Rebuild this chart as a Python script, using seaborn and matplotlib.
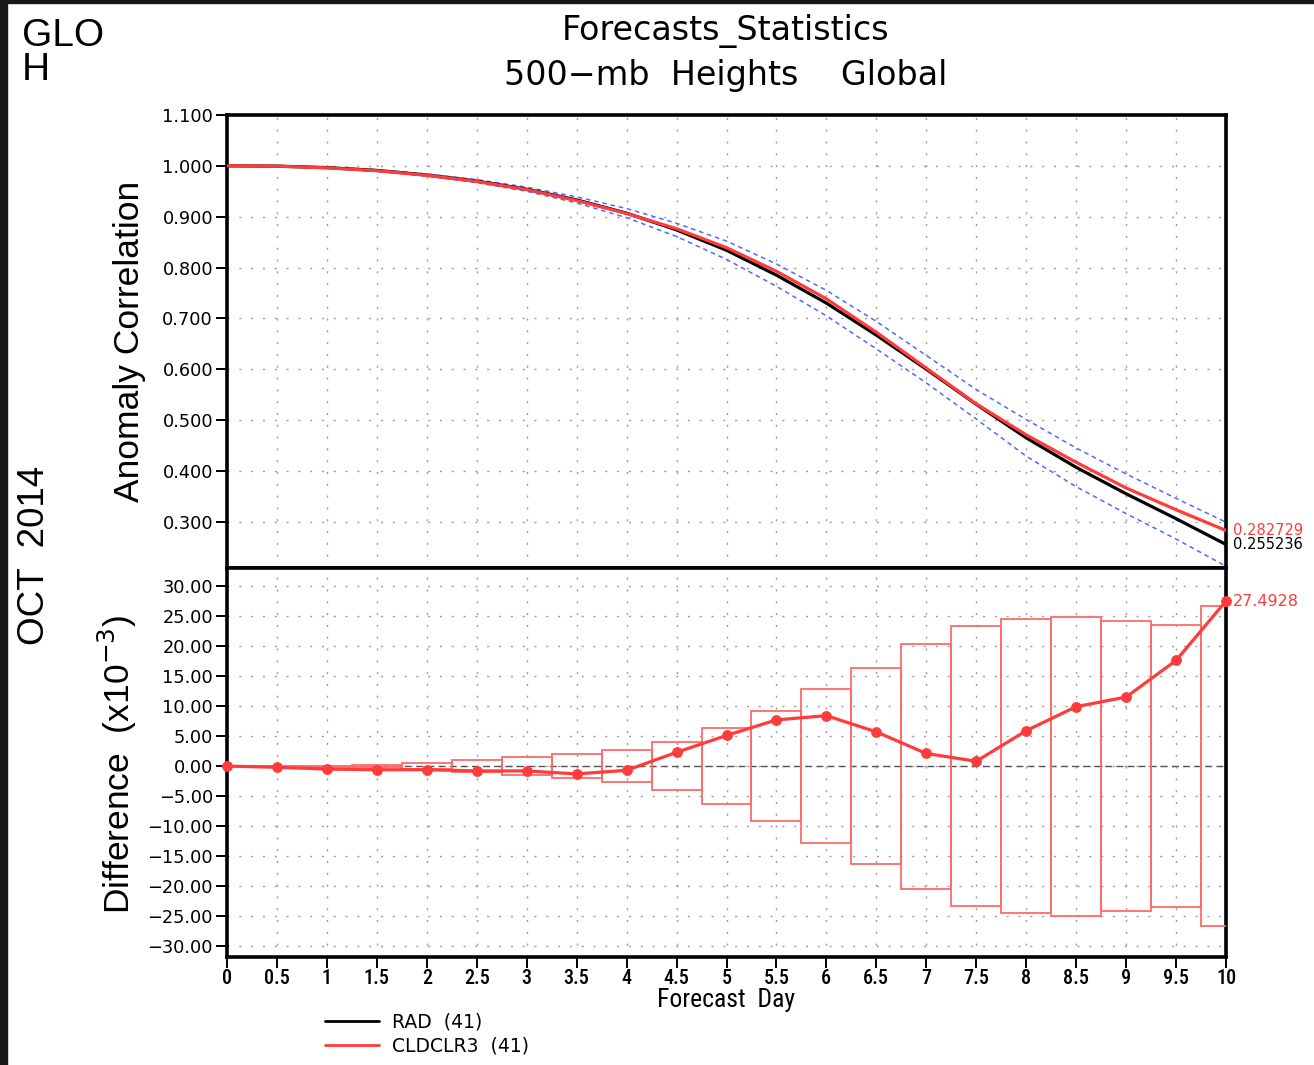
import numpy as np
import pandas as pd
import matplotlib
matplotlib.use("Agg")
import matplotlib.pyplot as plt
import seaborn as sns
from matplotlib.patches import Rectangle
from matplotlib.lines import Line2D
from matplotlib import font_manager

# ---------------- data ----------------
days = [0.0, 0.5, 1.0, 1.5, 2.0, 2.5, 3.0, 3.5, 4.0, 4.5, 5.0,
        5.5, 6.0, 6.5, 7.0, 7.5, 8.0, 8.5, 9.0, 9.5, 10.0]

rad_ac = [1.000, 0.9995, 0.9965, 0.991, 0.982, 0.970, 0.954, 0.933, 0.907, 0.874, 0.834,
          0.785, 0.730, 0.667, 0.600, 0.531, 0.465, 0.407, 0.355, 0.306, 0.255236]

cldclr3_ac = [1.000, 0.9993, 0.9960, 0.9904, 0.9814, 0.9692, 0.9532, 0.9317, 0.9063, 0.8763, 0.8391,
              0.7927, 0.7384, 0.6727, 0.6021, 0.5318, 0.4709, 0.4169, 0.3665, 0.3236, 0.282729]

ci_upper = [1.000, 1.000, 0.9975, 0.9925, 0.984, 0.973, 0.958, 0.939, 0.916, 0.887, 0.852,
            0.807, 0.755, 0.694, 0.627, 0.560, 0.501, 0.445, 0.394, 0.346, 0.299]

ci_lower = [1.000, 0.999, 0.9955, 0.9895, 0.980, 0.967, 0.950, 0.927, 0.898, 0.861, 0.816,
            0.763, 0.705, 0.640, 0.573, 0.502, 0.429, 0.369, 0.316, 0.266, 0.2125]

diff = [0.0, -0.2, -0.5, -0.6, -0.6, -0.8, -0.8, -1.3, -0.7, 2.3, 5.1,
        7.7, 8.4, 5.7, 2.1, 0.8, 5.9, 9.9, 11.5, 17.6, 27.4928]

diff_bound = [0.0, 0.03, 0.08, 0.17, 0.44, 0.94, 1.44, 2.0, 2.67, 4.0, 6.3,
              9.2, 12.8, 16.3, 20.4, 23.3, 24.5, 24.9, 24.1, 23.5, 26.7]

ac_ticks = [0.3, 0.4, 0.5, 0.6, 0.7, 0.8, 0.9, 1.0, 1.1]
diff_ticks = [-30, -25, -20, -15, -10, -5, 0, 5, 10, 15, 20, 25, 30]
day_ticks = days

series_labels = ["RAD  (41)", "CLDCLR3  (41)"]
end_labels = ["0.282729", "0.255236", "27.4928"]

# ---------------- style ----------------
sns.set_theme(style="white")
plt.rcParams["font.family"] = ["DejaVu Sans"]
for k in ("text.color", "axes.labelcolor", "xtick.color", "ytick.color", "axes.edgecolor"):
    plt.rcParams[k] = "black"

available = {f.name for f in font_manager.fontManager.ttflist}
def pick(cands):
    for c in cands:
        if c in available:
            return c
    return "DejaVu Sans"
narrow = pick(["Liberation Sans Narrow", "DejaVu Sans Condensed", "Roboto Condensed",
               "Open Sans Condensed", "Noto Sans Condensed"])
helv = pick(["Liberation Sans", "DejaVu Sans"])

RED = "#ff3b3b"
BOXRED = "#ff6a6a"
BLUE = "#4d6bff"
GRID = "#9c9c9c"

W, H = 1314, 1065
fig = plt.figure(figsize=(W / 100, H / 100), dpi=100)
fig.patch.set_facecolor("white")
# dark screenshot frame
fig.patches.append(Rectangle((0, 0), 7 / W, 1, transform=fig.transFigure, color="#181818", zorder=0))
fig.patches.append(Rectangle((0, 1 - 3 / H), 1, 3 / H, transform=fig.transFigure, color="#181818", zorder=0))

x0, x1 = 227, 1226
ax1 = fig.add_axes([x0 / W, 1 - 568 / H, (x1 - x0) / W, (568 - 115) / H])
ax2 = fig.add_axes([x0 / W, 1 - 957 / H, (x1 - x0) / W, (957 - 568) / H])

top = pd.DataFrame({"day": days, "rad": rad_ac, "cld": cldclr3_ac, "up": ci_upper, "lo": ci_lower})
bot = pd.DataFrame({"day": days, "diff": diff, "bound": diff_bound})

# ---------------- top panel ----------------
sns.lineplot(data=top, x="day", y="up", ax=ax1, color=BLUE, lw=1.1, ls=(0, (3, 2.5)), zorder=3)
sns.lineplot(data=top, x="day", y="lo", ax=ax1, color=BLUE, lw=1.1, ls=(0, (3, 2.5)), zorder=3)
sns.lineplot(data=top, x="day", y="rad", ax=ax1, color="black", lw=2.3, zorder=4)
sns.lineplot(data=top, x="day", y="cld", ax=ax1, color=RED, lw=2.3, zorder=5)

ax1.set_xlim(0, 10)
ax1.set_ylim(0.209, 1.1)
ax1.set_yticks(ac_ticks)
ax1.set_yticklabels([f"{v:.3f}" for v in ac_ticks])
ax1.set_xticks(day_ticks)
ax1.tick_params(axis="x", bottom=False, labelbottom=False, length=0)
ax1.tick_params(axis="y", left=True, direction="out", length=8, width=1.4, pad=2,
                labelsize=12.8, colors="black")
ax1.set_xlabel("")
ax1.set_ylabel("")

ax1.annotate(end_labels[0], xy=(10, cldclr3_ac[-1]), xytext=(5, 0), textcoords="offset points",
             va="center", ha="left", color=RED, fontsize=10.5, annotation_clip=False)
ax1.annotate(end_labels[1], xy=(10, rad_ac[-1]), xytext=(5, 0), textcoords="offset points",
             va="center", ha="left", color="black", fontsize=10.5, annotation_clip=False)

# ---------------- bottom panel ----------------
for d, b in zip(bot["day"], bot["bound"]):
    ax2.add_patch(Rectangle((d - 0.25, -b), 0.5, 2 * b, fill=False, edgecolor=BOXRED, lw=1.3, zorder=3))
ax2.axhline(0, color="#555555", lw=1.0, ls=(0, (5, 3)), zorder=2)
sns.lineplot(data=bot, x="day", y="diff", ax=ax2, color=RED, lw=2.3, marker="o", markersize=7,
             markeredgecolor=RED, zorder=5)
for ln in ax2.lines:
    ln.set_clip_on(False)

ax2.set_xlim(0, 10)
ax2.set_ylim(-31.8, 33)
ax2.set_yticks(diff_ticks)
ax2.set_yticklabels([f"{v:.2f}".replace("-", "\u2212") for v in diff_ticks])
ax2.set_xticks(day_ticks)
ax2.set_xticklabels([f"{v:g}" for v in day_ticks], fontfamily=narrow, fontweight="medium")
ax2.tick_params(axis="y", left=True, direction="out", length=8, width=1.4, pad=2,
                labelsize=12.8, colors="black")
ax2.tick_params(axis="x", bottom=True, direction="out", length=8, width=1.4, pad=0.5,
                labelsize=14.5, colors="black")
ax2.set_xlabel("")
ax2.set_ylabel("")
ax2.annotate(end_labels[2], xy=(10, diff[-1]), xytext=(5, 0), textcoords="offset points",
             va="center", ha="left", color=RED, fontsize=11.5, annotation_clip=False)

for ax in (ax1, ax2):
    ax.grid(True, color=GRID, linestyle=(0, (1.5, 7)), linewidth=1.0)
    ax.set_axisbelow(True)
    for s in ax.spines.values():
        s.set_visible(True)
        s.set_linewidth(2.6)
        s.set_color("black")
    ax.set_facecolor("white")

# ---------------- texts ----------------
def ftxt(x, y, s, **kw):
    fig.text(x / W, 1 - y / H, s, color=kw.pop("color", "black"), **kw)

ftxt(22, 46, "GLO", fontsize=28, family=helv, va="baseline", ha="left")
ftxt(22, 80, "H", fontsize=28, family=helv, va="baseline", ha="left")
ftxt(726, 31, "Forecasts_Statistics", fontsize=24, ha="center", va="center")
ftxt(726, 76, "500\u2212mb  Heights    Global", fontsize=24, ha="center", va="center")
ftxt(35, 555, "OCT  2014", fontsize=26.5, family=helv, rotation=90, ha="center", va="center")
ftxt(129, 341, "Anomaly Correlation", fontsize=25.5, family=helv, rotation=90, ha="center", va="center")
ftxt(117, 764, "Difference  (x10$^{-3}$)", fontsize=25.5, family=helv, rotation=90, ha="center", va="center")
ftxt(726, 1000, "Forecast  Day", fontsize=18.5, family=narrow, ha="center", va="center")

handles = [Line2D([], [], color="black", lw=2.0), Line2D([], [], color=RED, lw=2.0)]
leg = fig.legend(handles, series_labels, loc="upper left", bbox_to_anchor=(325 / W, 1 - 1013 / H),
                 frameon=False, fontsize=13.5, handlelength=2.9, handletextpad=0.7, labelspacing=0.25,
                 borderpad=0, borderaxespad=0)
for t in leg.get_texts():
    t.set_color("black")

fig.savefig("out.png", dpi=100, facecolor="white")
